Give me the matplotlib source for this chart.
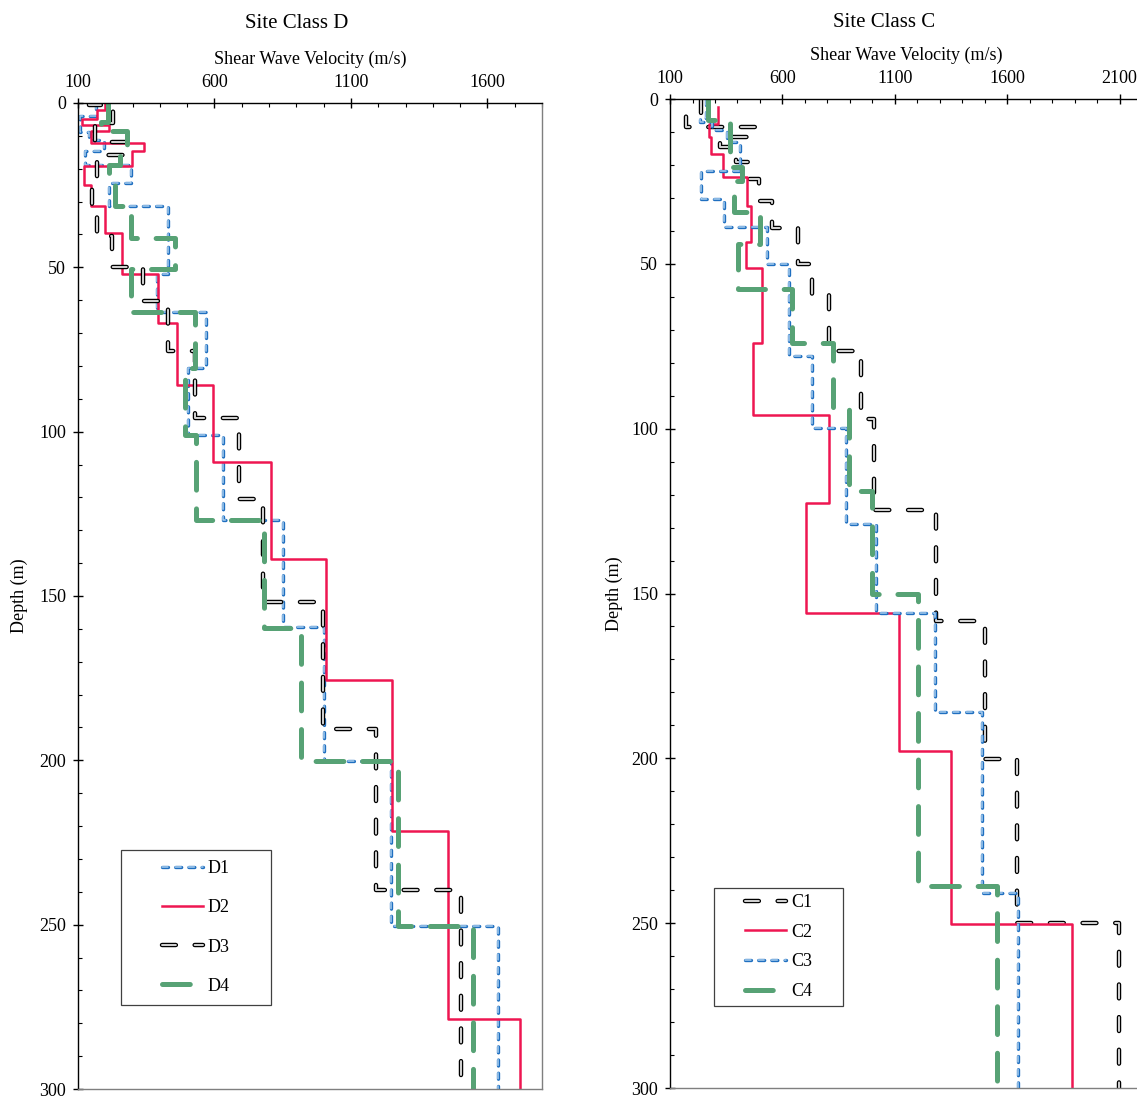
import numpy as np
import matplotlib
matplotlib.use("Agg")
import matplotlib.pyplot as plt
from matplotlib import patheffects as pe
from matplotlib.ticker import MultipleLocator

plt.rcParams['font.family'] = ['Liberation Serif', 'DejaVu Serif']
plt.rcParams['lines.scale_dashes'] = False

# 1. Layer data (top depth of each layer in m, shear wave velocity in m/s)
MAX_DEPTH = 300

d1_top = [0, 4.0, 8.7, 11.3, 14.6, 18.8, 24.4, 31.3, 52.0, 63.5, 80.5, 101.0, 127.0, 159.4, 200.3, 250.4]
d1_vs = [165, 108, 140, 195, 126, 295, 213, 430, 388, 570, 504, 632, 851, 1003, 1245, 1640]

d2_top = [0, 2.0, 5.0, 6.6, 8.6, 12.1, 14.7, 19.2, 24.9, 31.3, 39.7, 52.0, 67.0, 85.9, 109.3, 138.7,
          175.6, 221.4, 278.7]
d2_vs = [200, 168, 116, 213, 146, 341, 299, 122, 146, 199, 260, 394, 461, 595, 806, 1010, 1252, 1455, 1720]

d3_top = [0, 0.6, 6.0, 12.0, 15.7, 26.0, 34.0, 40.4, 50.0, 60.2, 75.6, 95.7, 120.4, 151.7, 190.5, 239.5]
d3_vs = [140, 230, 161, 280, 168, 152, 168, 223, 339, 430, 528, 689, 778, 997, 1193, 1503]

d4_top = [0, 5.8, 8.6, 14.4, 19.0, 24.0, 31.3, 41.0, 50.4, 63.5, 80.5, 101.0, 127.0, 159.6, 200.3, 250.4]
d4_vs = [210, 185, 278, 253, 213, 235, 296, 455, 296, 528, 491, 533, 780, 918, 1272, 1546]

c1_top = [0, 4.7, 8.6, 11.4, 14.5, 19.0, 24.3, 31.0, 39.0, 50.2, 59.3, 76.5, 97.0, 124.8, 158.3,
          200.2, 250.0]
c1_vs = [239, 172, 476, 321, 395, 451, 496, 552, 670, 730, 808, 950, 1007, 1282, 1500, 1645, 2097]

c2_top = [2.4, 7.6, 11.5, 16.6, 23.7, 32.6, 43.4, 51.4, 74.0, 95.8, 122.5, 156.0, 197.9, 250.1]
c2_vs = [313, 274, 282, 337, 441, 459, 438, 507, 470, 807, 707, 1119, 1352, 1890]

c3_top = [0, 5.7, 7.0, 9.4, 12.9, 21.8, 30.2, 38.8, 50.0, 77.9, 99.9, 128.8, 156.0, 185.8, 240.7]
c3_vs = [261, 232, 285, 355, 410, 236, 341, 532, 629, 730, 882, 1016, 1278, 1488, 1648]

c4_top = [0, 6.5, 20.5, 25.0, 34.3, 44.1, 57.5, 73.9, 93.9, 119.0, 150.3, 238.7]
c4_vs = [269, 365, 421, 386, 500, 404, 644, 826, 897, 999, 1203, 1555]


def step_profile(tops, vs):
    bottoms = list(tops[1:]) + [MAX_DEPTH]
    x = np.repeat(vs, 2)
    y = np.column_stack([tops, bottoms]).ravel()
    return x, y


# 2. Line styles (outlined dashes done with a stroke path effect)
BLUE = dict(color='#A9CDEE', lw=1.1, ls=(0, (4.3, 5.2)), dash_capstyle='round',
            path_effects=[pe.Stroke(linewidth=2.4, foreground='#1F6FC0'), pe.Normal()])
RED = dict(color='#EE1651', lw=1.8, ls='-')
BLACK = dict(color='#D4D4D4', lw=1.4, ls=(0, (10, 13.5)), dash_capstyle='round',
             path_effects=[pe.Stroke(linewidth=3.2, foreground='black'), pe.Normal()])
GREEN = dict(color='#57A275', lw=3.6, ls=(0, (20, 13.5)), dash_capstyle='round')


def style_axes(ax, xmax, xlabel_y, title, title_x, title_y):
    ax.set_xlim(100, xmax)
    ax.set_ylim(MAX_DEPTH, 0)
    ax.xaxis.tick_top()
    ax.xaxis.set_label_position('top')
    ax.set_xticks(np.arange(100, xmax, 500))
    ax.xaxis.set_minor_locator(MultipleLocator(100))
    ax.yaxis.set_major_locator(MultipleLocator(50))
    ax.yaxis.set_minor_locator(MultipleLocator(10))
    ax.tick_params(which='major', direction='inout', length=7, width=1, labelsize=13, pad=5,
                   top=True, bottom=False, right=False)
    ax.tick_params(which='minor', direction='in', length=3, width=0.8,
                   top=True, bottom=False, right=False)
    ax.set_xlabel("Shear Wave Velocity (m/s)", fontsize=13)
    ax.xaxis.set_label_coords(0.5, xlabel_y)
    ax.set_ylabel("Depth (m)", fontsize=13)
    for side in ['left', 'top']:
        ax.spines[side].set_color('black')
        ax.spines[side].set_linewidth(1.0)
    for side in ['right', 'bottom']:
        ax.spines[side].set_color('#7F7F7F')
        ax.spines[side].set_linewidth(1.0)
    ax.text(title_x, title_y, title, transform=ax.transAxes, ha='center', va='center', fontsize=15)


def boxed_legend(ax, x0, y0, x1, y1, spacing):
    ax.add_patch(plt.Rectangle((x0, y0), x1 - x0, y1 - y0, transform=ax.transAxes, fill=False,
                               edgecolor='#404040', lw=0.9, zorder=5))
    ax.legend(loc='center', bbox_to_anchor=((x0 + x1) / 2, (y0 + y1) / 2), bbox_transform=ax.transAxes,
              frameon=False, fontsize=13, handlelength=2.3, handletextpad=0.25,
              labelspacing=spacing, borderaxespad=0)


# 3. Figure
fig = plt.figure(figsize=(11.37, 11.0), dpi=100)
ax_d = fig.add_axes([0.0686, 0.0100, 0.4081, 0.8964])
ax_c = fig.add_axes([0.5893, 0.0109, 0.4151, 0.8991])

# Site Class D
ax_d.plot(*step_profile(d1_top, d1_vs), label='D1', **BLUE)
ax_d.plot(*step_profile(d2_top, d2_vs), label='D2', **RED)
ax_d.plot(*step_profile(d3_top, d3_vs), label='D3', **BLACK)
ax_d.plot(*step_profile(d4_top, d4_vs), label='D4', **GREEN)
style_axes(ax_d, 1800, 1.040, "Site Class D", 0.472, 1.081)
ax_d.yaxis.set_label_coords(-0.108, 0.5)
boxed_legend(ax_d, 0.0927, 0.085, 0.416, 0.2427, 1.23)

# Site Class C
ax_c.plot(*step_profile(c1_top, c1_vs), label='C1', **BLACK)
ax_c.plot(*step_profile(c2_top, c2_vs), label='C2', **RED)
ax_c.plot(*step_profile(c3_top, c3_vs), label='C3', **BLUE)
ax_c.plot(*step_profile(c4_top, c4_vs), label='C4', **GREEN)
style_axes(ax_c, 2200, 1.040, "Site Class C", 0.453, 1.077)
ax_c.yaxis.set_label_coords(-0.099, 0.5)
boxed_legend(ax_c, 0.0932, 0.0827, 0.3665, 0.2026, 0.70)

fig.savefig("out.png", dpi=100)
